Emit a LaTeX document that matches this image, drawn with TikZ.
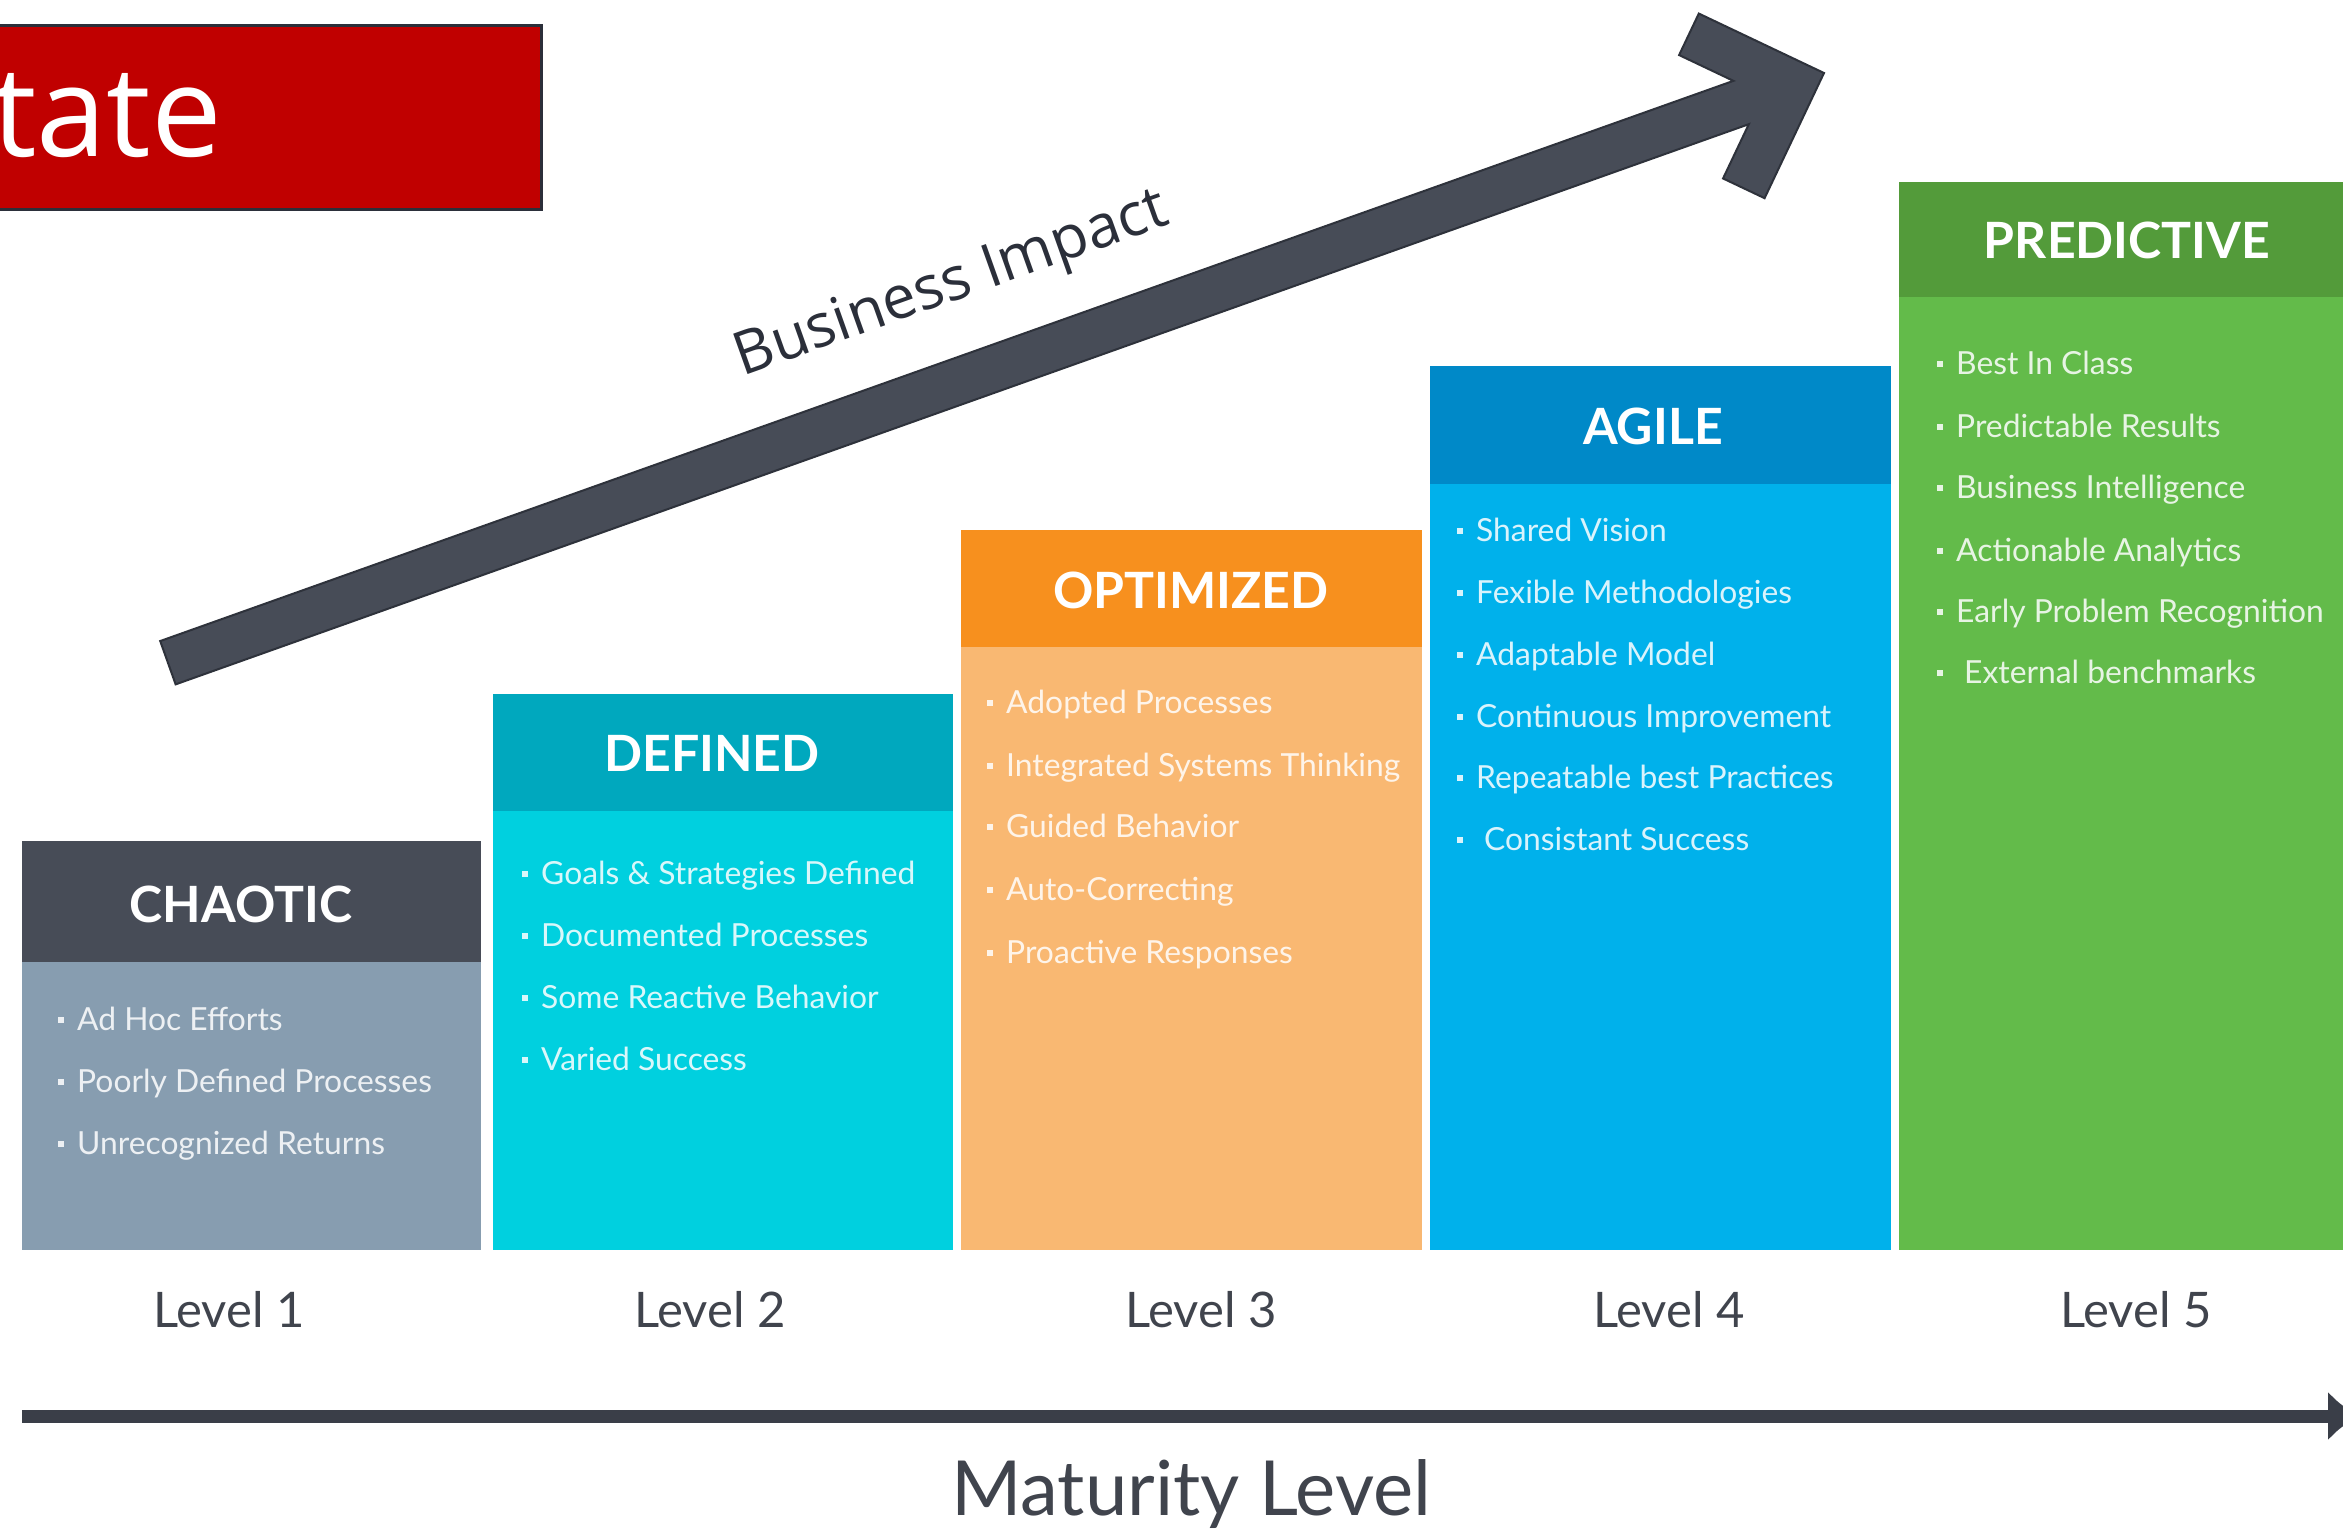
\documentclass[tikz,border=0pt]{standalone}
\usepackage{fontspec}
\setmainfont{Lato}
\newfontfamily\osans{Open Sans}
\usetikzlibrary{arrows.meta}
\definecolor{hdrA}{HTML}{474C57}\definecolor{bodyA}{HTML}{879DB0}
\definecolor{hdrB}{HTML}{00A8BE}\definecolor{bodyB}{HTML}{00D0DF}
\definecolor{hdrC}{HTML}{F7901E}\definecolor{bodyC}{HTML}{F9B872}
\definecolor{hdrD}{HTML}{0089C8}\definecolor{bodyD}{HTML}{00B1EB}
\definecolor{hdrE}{HTML}{539B3A}\definecolor{bodyE}{HTML}{63BB4A}
\definecolor{axisc}{HTML}{3A3E48}\definecolor{ink}{HTML}{40444D}
\definecolor{ink2}{HTML}{2B2F3A}\definecolor{arrowfill}{HTML}{474C57}
\definecolor{arrowedge}{HTML}{2E323B}\definecolor{redbox}{HTML}{C00000}
\newcommand\bul{\rule[7pt]{6pt}{6pt}\hspace{13pt}}
\begin{document}
\begin{tikzpicture}[x=1pt,y=-1pt,
  panel/.style={anchor=north west, inner sep=0pt, outer sep=0pt, draw=none},
  title/.style={inner sep=0pt, text=white, font=\fontsize{50}{60}\selectfont\bfseries},
  item/.style={anchor=base west, inner sep=0pt, text=white, text opacity=0.85, font=\fontsize{31.8}{38}\selectfont},
  lvl/.style={anchor=base, inner sep=0pt, text=ink, font=\fontsize{49}{58}\selectfont},
  axisline/.style={line width=13pt, draw=axisc, -{Latex[length=32pt,width=50pt]}}
]
\useasboundingbox (0,0) rectangle (2343,1529);
\fill[white] (0,0) rectangle (2343,1529);

% red title box
\node[panel, fill=redbox, draw=ink2, line width=3pt, minimum width=551pt, minimum height=184pt] (red) at (-10,25) {};
\node[anchor=base west, inner sep=0pt, text=white, font=\osans\fontsize{126}{144}\selectfont] (st) at (-8,156) {tate};

% business impact arrow
\begin{scope}[shift={(1824,73)}, rotate=19.6]
\filldraw[fill=arrowfill, draw=arrowedge, line width=2pt] (-1758,-23) -- (-88,-23) -- (-130.5,-65.5) -- (-98,-98) -- (0,0) -- (-98,98) -- (-130.5,65.5) -- (-88,23) -- (-1758,23) -- cycle;
\end{scope}
\node[anchor=base, inner sep=0pt, rotate=19.6, text=ink2, font=\osans\fontsize{60}{72}\selectfont] (bi) at (957,300) {Business Impact};

% level 1
\node[panel, fill=hdrA, minimum width=459pt, minimum height=121pt] (h1) at (22,841) {};
\node[panel, fill=bodyA, minimum width=459pt, minimum height=288pt] (b1) at (22,962) {};
\node[title] (t1) at (241,904) {CHAOTIC};
\node[item] (i11) at (58,1030) {\bul Ad Hoc Efforts};
\node[item] (i12) at (58,1092) {\bul Poorly Defined Processes};
\node[item] (i13) at (58,1154) {\bul Unrecognized Returns};

% level 2
\node[panel, fill=hdrB, minimum width=460pt, minimum height=117pt] (h2) at (493,694) {};
\node[panel, fill=bodyB, minimum width=460pt, minimum height=439pt] (b2) at (493,811) {};
\node[title] (t2) at (712,753) {DEFINED};
\node[item] (i21) at (522,884) {\bul Goals \& Strategies Defined};
\node[item] (i22) at (522,946) {\bul Documented Processes};
\node[item] (i23) at (522,1008) {\bul Some Reactive Behavior};
\node[item] (i24) at (522,1070) {\bul Varied Success};

% level 3
\node[panel, fill=hdrC, minimum width=461pt, minimum height=117pt] (h3) at (961,530) {};
\node[panel, fill=bodyC, minimum width=461pt, minimum height=603pt] (b3) at (961,647) {};
\node[title] (t3) at (1191,590) {OPTIMIZED};
\node[item] (i31) at (987,713) {\bul Adopted Processes};
\node[item] (i32) at (987,776) {\bul Integrated Systems Thinking};
\node[item] (i33) at (987,837) {\bul Guided Behavior};
\node[item] (i34) at (987,900) {\bul Auto-Correcting};
\node[item] (i35) at (987,963) {\bul Proactive Responses};

% level 4
\node[panel, fill=hdrD, minimum width=461pt, minimum height=118pt] (h4) at (1430,366) {};
\node[panel, fill=bodyD, minimum width=461pt, minimum height=766pt] (b4) at (1430,484) {};
\node[title] (t4) at (1653,426) {AGILE};
\node[item] (i41) at (1457,541) {\bul Shared Vision};
\node[item] (i42) at (1457,603) {\bul Fexible Methodologies};
\node[item] (i43) at (1457,665) {\bul Adaptable Model};
\node[item] (i44) at (1457,727) {\bul Continuous Improvement};
\node[item] (i45) at (1457,788) {\bul Repeatable best Practices};
\node[item] (i46) at (1457,850) {\bul\hspace{8pt}Consistant Success};

% level 5
\node[panel, fill=hdrE, minimum width=460pt, minimum height=115pt] (h5) at (1899,182) {};
\node[panel, fill=bodyE, minimum width=460pt, minimum height=953pt] (b5) at (1899,297) {};
\node[title] (t5) at (2127,240) {PREDICTIVE};
\node[item] (i51) at (1937,374) {\bul Best In Class};
\node[item] (i52) at (1937,437) {\bul Predictable Results};
\node[item] (i53) at (1937,498) {\bul Business Intelligence};
\node[item] (i54) at (1937,561) {\bul Actionable Analytics};
\node[item] (i55) at (1937,622) {\bul Early Problem Recognition};
\node[item] (i56) at (1937,683) {\bul\hspace{8pt}External benchmarks};

% level labels
\node[lvl] (l1) at (229,1327) {Level 1};
\node[lvl] (l2) at (710,1327) {Level 2};
\node[lvl] (l3) at (1201,1327) {Level 3};
\node[lvl] (l4) at (1669,1327) {Level 4};
\node[lvl] (l5) at (2136,1327) {Level 5};

% maturity axis
\coordinate (ax0) at (22,1416);
\coordinate (ax1) at (2360,1416);
\draw[axisline] (ax0) -- (ax1);
\node[anchor=base, inner sep=0pt, text=ink, font=\fontsize{76}{90}\selectfont] (mat) at (1191,1515) {Maturity Level};
\end{tikzpicture}
\end{document}
